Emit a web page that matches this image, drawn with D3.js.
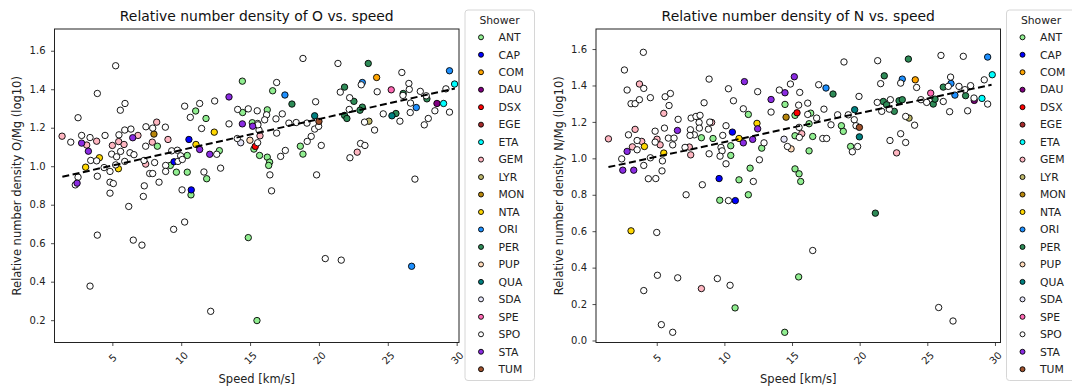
<!DOCTYPE html>
<html lang="en">
<head>
<meta charset="utf-8">
<script src="https://d3js.org/d3.v7.min.js"></script>
<style>
body { margin: 0; background: #fff; font-family: "DejaVu Sans", sans-serif; }
.axis text { font: 10px "DejaVu Sans", sans-serif; fill: #222; }
.axis line { stroke: #222; stroke-width: 0.8; }
.axis path { display: none; }
</style>
</head>
<body>
<div class="chart"></div>
<script>
// shower codes and their matplotlib colours (legend order)
var showers = ["ANT","CAP","COM","DAU","DSX","EGE","ETA","GEM","LYR","MON","NTA","ORI","PER","PUP","QUA","SDA","SPE","SPO","STA","TUM"];
var showerColors = ["#90ee90","#0000ff","#ffa500","#800080","#ff0000","#a52a2a","#00ffff","#ffb6c1","#bdb76b","#b8860b","#ffd700","#1e90ff","#2e8b57","#ffdab9","#008080","#e6e6fa","#ff69b4","#ffffff","#8a2be2","#a0522d"];

var speedTicks = [5, 10, 15, 20, 25, 30];
var oTicks = [0.2, 0.4, 0.6, 0.8, 1.0, 1.2, 1.4, 1.6];
var nTicks = [0.0, 0.2, 0.4, 0.6, 0.8, 1.0, 1.2, 1.4, 1.6];

// [speed km/s, log10 O/Mg, shower]
var oPoints = [
[1.35,1.156,"GEM"],[1.98,1.125,"SPO"],[2.51,1.252,"SPO"],[2.77,1.16,"SPO"],[2.77,1.12,"STA"],[3.38,1.149,"SPO"],[3.86,1.13,"GEM"],[3.14,1.11,"GEM"],
[3.26,1.078,"STA"],[3.43,1.03,"SPO"],[3.86,1.028,"SPO"],[4.06,1.044,"NTA"],[3.06,0.995,"NTA"],[3.91,1.378,"SPO"],[5.24,1.522,"SPO"],[5.92,1.326,"SPO"],
[5.58,1.291,"SPO"],[4.47,1.16,"SPO"],[3.91,0.948,"SPO"],[2.51,0.943,"SPO"],[2.31,0.903,"SPO"],[2.44,0.912,"STA"],[4.4,0.993,"SPO"],[4.83,0.973,"SPO"],
[4.83,0.917,"SPO"],[5.07,0.91,"SPO"],[4.83,0.86,"SPO"],[5.0,1.108,"GEM"],[5.46,1.128,"GEM"],[5.85,1.113,"GEM"],[5.48,1.163,"SPO"],[5.9,1.188,"SPO"],
[6.35,1.193,"SPO"],[4.95,1.063,"SPO"],[5.31,1.049,"SPO"],[5.6,1.077,"SPO"],[6.28,1.07,"SPO"],[6.57,1.06,"SPO"],[5.9,1.025,"SPO"],[5.24,1.007,"SPO"],
[5.44,0.987,"NTA"],[6.48,1.148,"STA"],[6.86,1.16,"GEM"],[7.44,1.205,"SPO"],[7.93,1.198,"SPO"],[8.22,1.229,"GEM"],[8.02,1.167,"MON"],[8.85,1.203,"SPO"],
[9.04,1.139,"GEM"],[7.9,1.125,"GEM"],[7.42,1.104,"SPO"],[8.27,1.104,"ANT"],[6.19,0.791,"SPO"],[7.32,0.898,"SPO"],[7.25,0.843,"SPO"],[7.71,0.962,"SPO"],
[7.93,0.962,"SPO"],[8.07,1.019,"SPO"],[7.3,1.03,"SPO"],[7.42,1.011,"GEM"],[8.39,0.917,"SPO"],[3.91,0.642,"SPO"],[6.52,0.616,"SPO"],[7.15,0.59,"SPO"],
[3.38,0.377,"SPO"],[9.45,0.672,"SPO"],[10.25,0.71,"SPO"],[10.06,0.877,"SPO"],[10.71,0.851,"ANT"],[10.73,0.877,"CAP"],[10.56,1.139,"CAP"],[11.07,1.113,"NTA"],
[11.34,1.087,"STA"],[8.87,1.004,"SPO"],[8.87,0.973,"SPO"],[9.31,1.08,"SPO"],[9.72,1.083,"SPO"],[9.96,1.054,"SPO"],[9.77,1.025,"SPO"],[9.48,1.023,"CAP"],
[10.08,1.035,"SPO"],[9.65,0.969,"ANT"],[10.44,0.969,"ANT"],[10.44,1.056,"ANT"],[9.21,1.004,"ANT"],[10.25,1.312,"SPO"],[10.66,1.254,"SPO"],[11.05,1.287,"ANT"],
[11.34,1.326,"SPO"],[11.8,1.248,"ANT"],[11.48,1.196,"SPO"],[11.65,0.97,"SPO"],[11.85,0.935,"ANT"],[12.4,1.177,"NTA"],[12.43,1.339,"SPO"],[12.07,1.062,"STA"],
[12.58,1.062,"SPO"],[12.77,1.081,"ANT"],[12.86,0.99,"SPO"],[13.47,1.36,"STA"],[13.47,1.22,"SPO"],[12.14,0.246,"SPO"],
[14.1,1.295,"SPO"],[14.87,1.298,"SPO"],[14.44,1.442,"ANT"],[14.46,1.279,"ANT"],[14.44,1.22,"STA"],[14.32,1.122,"SDA"],[14.07,1.144,"SPO"],[14.99,1.135,"PUP"],
[15.19,1.208,"STA"],[15.16,1.226,"ANT"],[15.38,1.103,"DSX"],[15.28,1.089,"ANT"],[15.55,1.222,"SPO"],[15.65,1.188,"SPO"],[15.72,1.158,"GEM"],[15.55,1.122,"SPO"],
[14.87,0.629,"ANT"],[15.5,0.198,"ANT"],
[18.84,1.56,"SPO"],[16.93,1.435,"SPO"],[16.64,1.392,"ANT"],[17.53,1.37,"ORI"],[18.04,1.323,"PER"],[19.76,1.335,"SPO"],[15.52,1.288,"SPO"],[16.25,1.293,"ANT"],
[16.2,1.267,"SPO"],[17.34,1.272,"SPO"],[16.88,1.246,"SPO"],[19.69,1.262,"QUA"],[20.0,1.233,"TUM"],[19.13,1.224,"SPO"],[18.35,1.227,"SPO"],[17.82,1.224,"SPO"],
[19.69,1.193,"SPO"],[19.98,1.207,"SPO"],[19.44,1.155,"SPO"],[19.15,1.129,"SPO"],[16.93,1.172,"SPO"],[16.06,1.241,"SPO"],[15.57,1.215,"SPO"],[18.65,1.104,"ANT"],
[18.84,1.063,"ANT"],[20.17,1.108,"SPO"],[17.56,1.082,"SPO"],[17.22,1.051,"SPO"],[15.69,1.056,"ANT"],[16.25,1.047,"ANT"],[16.42,1.021,"ANT"],[16.35,1.004,"ANT"],
[16.44,0.955,"SPO"],[16.56,0.872,"SPO"],[19.83,0.955,"SPO"],[20.46,0.52,"SPO"],[21.62,0.512,"SPO"],
[21.38,1.534,"SPO"],[23.58,1.534,"PER"],[21.86,1.411,"PER"],[21.55,1.385,"SPO"],[22.23,1.356,"SPO"],[22.54,1.337,"PER"],[23.15,1.435,"ORI"],[23.07,1.423,"SPO"],
[23.15,1.307,"PER"],[22.98,1.291,"PER"],[22.2,1.295,"SPO"],[21.86,1.264,"PER"],[22.03,1.248,"PER"],[23.31,1.229,"SPO"],[23.63,1.234,"LYR"],[24.04,1.188,"SPO"],
[24.19,1.461,"COM"],[24.23,1.387,"SPO"],[25.25,1.397,"SPE"],[24.67,1.272,"SPO"],[25.3,1.262,"QUA"],[25.59,1.274,"PER"],[25.88,1.234,"SPO"],[26.02,1.487,"SPO"],
[26.53,1.43,"SPO"],[26.56,1.399,"SPO"],[26.12,1.378,"PER"],[26.1,1.368,"SPO"],[26.65,1.328,"SPO"],[26.63,1.279,"SPO"],[27.07,1.305,"ORI"],[27.36,1.389,"SPO"],
[27.84,1.35,"PER"],[27.79,1.366,"SPO"],[27.94,1.248,"SPO"],[27.65,1.215,"SPO"],[28.42,1.288,"SPO"],[28.57,1.326,"DAU"],[29.05,1.326,"ETA"],[29.22,1.402,"SPO"],
[29.48,1.281,"SPO"],[29.48,1.496,"ORI"],[29.85,1.427,"ETA"],[26.97,0.933,"SPO"],[26.73,0.48,"ORI"],[22.78,1.073,"GEM"],[23.02,1.118,"SPO"],[23.34,1.108,"SPO"],
[22.25,1.044,"SPO"]
];

// [speed km/s, log10 N/Mg, shower]
var nPoints = [
[1.43,1.107,"GEM"],[2.41,0.997,"SPO"],[2.49,0.935,"STA"],[3.3,0.935,"STA"],[2.81,1.038,"STA"],[2.61,1.485,"SPO"],[2.81,1.375,"SPO"],[3.1,1.3,"SPO"],
[3.4,1.3,"SPO"],[3.72,1.322,"SPO"],[3.72,1.408,"GEM"],[4.04,1.384,"SPO"],[4.01,1.582,"SPO"],[4.53,1.333,"SPO"],[2.91,1.129,"SPO"],[3.4,1.159,"GEM"],
[3.55,1.098,"SPO"],[3.89,1.093,"GEM"],[3.2,1.063,"GEM"],[3.55,1.047,"SPO"],[4.09,1.065,"NTA"],[4.04,0.961,"SPO"],[4.38,0.888,"SPO"],[4.93,0.889,"SPO"],
[4.53,1.003,"SPO"],[4.88,1.149,"SPO"],[5.02,1.105,"GEM"],[4.88,1.089,"SPO"],[5.25,1.074,"GEM"],[5.52,1.029,"NTA"],[5.42,0.986,"SPO"],[5.39,0.931,"SPO"],
[5.57,1.166,"SPO"],[5.62,1.338,"SPO"],[6.01,1.356,"SPO"],[5.91,1.29,"SPO"],[5.52,1.247,"GEM"],[5.86,1.111,"SPO"],[6.28,1.111,"SPO"],[6.18,1.074,"SPO"],
[6.53,1.153,"STA"],[6.58,1.214,"SPO"],[7.17,0.8,"SPO"],[7.09,1.06,"SPO"],[7.41,1.062,"GEM"],[7.51,1.019,"GEM"],[7.54,1.221,"SPO"],[7.9,1.23,"SPO"],
[8.2,1.236,"SPO"],[8.13,1.197,"SPO"],[8.15,1.166,"SPO"],[7.49,1.157,"SPO"],[7.78,1.129,"SPO"],[7.46,1.126,"SPO"],[8.3,1.113,"ANT"],[8.87,1.435,"SPO"],
[8.5,1.305,"SPO"],[8.92,1.199,"SPO"],[9.06,1.197,"GEM"],[8.82,1.16,"SPO"],[8.87,1.025,"SPO"],[9.16,1.109,"ANT"],[8.37,0.855,"SPO"],[9.88,1.126,"SPO"],
[9.75,1.06,"SPO"],[9.83,1.041,"SPO"],[9.68,1.012,"SPO"],[10.12,0.97,"SPO"],[10.12,1.179,"SPO"],[9.61,0.889,"CAP"],[9.66,0.77,"ANT"],[10.3,0.768,"SPO"],
[10.81,0.768,"CAP"],[10.59,1.144,"CAP"],[11.08,1.109,"NTA"],[10.47,1.069,"ANT"],[10.47,1.016,"ANT"],[10.3,1.382,"SPO"],[10.67,1.316,"SPO"],[11.4,1.272,"SPO"],
[11.48,1.421,"STA"],[11.77,1.241,"ANT"],[11.4,1.085,"STA"],[12.09,1.104,"STA"],[12.14,0.873,"SPO"],[11.08,0.882,"ANT"],[11.9,0.946,"ANT"],[11.77,0.8,"ANT"],
[12.41,1.192,"NTA"],[12.46,1.162,"STA"],[12.46,1.366,"SPO"],[12.59,0.992,"SPO"],[12.76,1.056,"ANT"],[12.93,1.085,"SPO"],[13.45,1.323,"STA"],[13.45,1.254,"SPO"],
[14.06,1.375,"SPO"],[14.48,1.36,"STA"],[14.48,1.296,"ANT"],[14.56,1.226,"MON"],[14.41,1.105,"SDA"],[14.66,1.065,"SPO"],[14.93,1.052,"PUP"],[15.17,1.448,"STA"],
[14.88,1.408,"SPO"],[15.37,1.25,"DSX"],[15.22,1.236,"ANT"],[15.22,1.124,"ANT"],[15.22,0.942,"ANT"],[15.52,0.915,"ANT"],[15.64,0.873,"ANT"],
[3.1,0.602,"NTA"],[5.0,0.593,"SPO"],[5.05,0.358,"SPO"],[4.04,0.274,"SPO"],[6.55,0.344,"SPO"],[8.3,0.285,"GEM"],[9.48,0.34,"SPO"],[10.42,0.303,"SPO"],
[10.79,0.179,"ANT"],[5.34,0.087,"SPO"],[6.18,0.045,"SPO"],[14.46,0.045,"ANT"],[15.49,0.349,"ANT"],
[15.57,1.362,"SPO"],[15.49,1.292,"SPO"],[16.16,1.303,"SPO"],[15.52,1.17,"SPO"],[15.54,1.115,"SPO"],[15.72,1.135,"GEM"],[16.16,1.241,"SPO"],[16.26,1.19,"ANT"],
[16.53,1.12,"ANT"],[16.38,1.248,"ANT"],[16.26,1.041,"ANT"],[16.53,0.494,"SPO"],[16.97,1.404,"SPO"],[16.82,1.221,"SPO"],[17.36,1.27,"SPO"],[17.27,1.109,"SPO"],
[17.56,1.109,"SPO"],[17.51,1.386,"ORI"],[18.03,1.353,"PER"],[17.88,1.184,"SPO"],[18.37,1.239,"SPO"],[18.84,1.529,"SPO"],[18.65,1.179,"ANT"],[18.79,1.148,"ANT"],
[19.16,1.239,"SPO"],[19.33,1.065,"ANT"],[19.46,1.036,"SPO"],[19.6,1.212,"SPO"],[19.73,1.179,"SPO"],[19.63,1.267,"QUA"],[19.98,1.118,"QUA"],[19.98,1.17,"TUM"],
[19.85,1.065,"SPO"],[19.95,1.34,"SPO"],
[21.16,0.699,"PER"],[21.3,1.307,"SPO"],[21.33,1.536,"SPO"],[21.55,1.41,"SPO"],[21.82,1.453,"PER"],[21.75,1.312,"PER"],[21.99,1.294,"PER"],[22.27,1.322,"SPO"],
[21.63,1.258,"SPO"],[22.19,1.27,"SPO"],[22.56,1.258,"PER"],[22.91,1.316,"PER"],[23.15,1.322,"PER"],[23.15,1.435,"ORI"],[23.03,1.413,"SPO"],[23.4,1.23,"SPO"],
[23.65,1.221,"LYR"],[22.24,1.098,"SPO"],[23.03,1.135,"SPO"],[23.4,1.087,"SPO"],[22.73,1.03,"GEM"],[24.06,1.182,"SPO"],[24.21,1.389,"SPO"],[24.11,1.431,"COM"],
[23.6,1.545,"PER"],[25.25,1.358,"SPE"],[24.53,1.322,"SPO"],[24.95,1.307,"SPO"],[25.44,1.298,"PER"],[25.57,1.325,"PER"],[26.01,1.565,"SPO"],[25.84,0.181,"SPO"],
[26.9,0.107,"SPO"],[26.18,1.312,"SPO"],[26.18,1.391,"PER"],[26.55,1.395,"SPO"],[26.72,1.446,"SPO"],[26.75,1.411,"ORI"],[27.04,1.347,"ORI"],[26.65,1.256,"SPO"],
[27.34,1.395,"SPO"],[27.66,1.56,"SPO"],[27.78,1.377,"SPO"],[27.83,1.344,"PER"],[27.98,1.261,"SPO"],[28.2,1.399,"SPO"],[28.45,1.331,"SPO"],[28.47,1.318,"DAU"],
[29.04,1.329,"ETA"],[29.21,1.431,"SPO"],[29.46,1.298,"SPO"],[29.46,1.556,"ORI"],[29.8,1.459,"ETA"]
];

// dashed trend line end points
var oFit = [[1.37, 0.945], [29.87, 1.404]];
var nFit = [[1.43, 0.952], [29.75, 1.404]];

var width = 1072, height = 389;
var svg = d3.select(".chart").append("svg")
  .attr("width", width)
  .attr("height", height);

var color = d3.scaleOrdinal().domain(showers).range(showerColors);

function panel(offset, points, fit, xDomain, yDomain, yTicks, title, ylabel) {
  var left = 54.5, right = 459, top = 29, bottom = 342.5;
  var g = svg.append("g").attr("transform", "translate(" + offset + ",0)");

  var x = d3.scaleLinear().domain(xDomain).range([left, right]);
  var y = d3.scaleLinear().domain(yDomain).range([bottom, top]);

  // points, drawn one shower after another like the original plot
  var sorted = points.slice().sort(function(a, b) {
    return showers.indexOf(a[2]) - showers.indexOf(b[2]);
  });
  g.append("g").selectAll("circle")
    .data(sorted)
    .enter().append("circle")
    .attr("cx", function(d) { return x(d[0]); })
    .attr("cy", function(d) { return y(d[1]); })
    .attr("r", 3.2)
    .style("fill", function(d) { return color(d[2]); })
    .style("stroke", "#000")
    .style("stroke-width", 0.9);

  var line = d3.line().x(function(d) { return x(d[0]); }).y(function(d) { return y(d[1]); });
  g.append("path")
    .attr("d", line(fit))
    .style("fill", "none")
    .style("stroke", "#000")
    .style("stroke-width", 2)
    .style("stroke-dasharray", "7,3.5");

  // frame
  g.append("rect")
    .attr("x", left).attr("y", top)
    .attr("width", right - left).attr("height", bottom - top)
    .style("fill", "none").style("stroke", "#222").style("stroke-width", 1);

  var xAxis = g.append("g")
    .attr("class", "axis")
    .attr("transform", "translate(0," + bottom + ")")
    .call(d3.axisBottom(x).tickValues(speedTicks).tickSize(3.5).tickFormat(d3.format("d")));
  xAxis.selectAll("text")
    .attr("y", 0).attr("dy", "0.35em")
    .attr("text-anchor", "middle")
    .attr("transform", "translate(0,15.5) rotate(-45)");

  g.append("g")
    .attr("class", "axis")
    .attr("transform", "translate(" + left + ",0)")
    .call(d3.axisLeft(y).tickValues(yTicks).tickSize(3.5).tickPadding(5.5).tickFormat(d3.format(".1f")));

  g.append("text")
    .attr("x", (left + right) / 2).attr("y", 21)
    .attr("text-anchor", "middle")
    .style("font-size", "13.9px").style("fill", "#111")
    .text(title);

  g.append("text")
    .attr("x", (left + right) / 2).attr("y", 383)
    .attr("text-anchor", "middle")
    .style("font-size", "11.5px").style("fill", "#222")
    .text("Speed [km/s]");

  g.append("text")
    .attr("transform", "translate(21," + (top + bottom) / 2 + ") rotate(-90)")
    .attr("text-anchor", "middle")
    .style("font-size", "11.5px").style("fill", "#222")
    .text(ylabel);

  // legend
  var lg = g.append("g").attr("transform", "translate(465,10)");
  lg.append("rect")
    .attr("x", 0).attr("y", 0).attr("width", 69.5).attr("height", 370.5)
    .attr("rx", 3)
    .style("fill", "#fff").style("fill-opacity", 0.8)
    .style("stroke", "#d6d6d6").style("stroke-width", 1);
  lg.append("text")
    .attr("x", 34.5).attr("y", 14)
    .attr("text-anchor", "middle")
    .style("font-size", "10.8px").style("fill", "#222")
    .text("Shower");
  var rows = lg.selectAll(".row")
    .data(showers)
    .enter().append("g")
    .attr("class", "row")
    .attr("transform", function(d, i) { return "translate(0," + (27.3 + i * 17.47) + ")"; });
  rows.append("circle")
    .attr("cx", 16).attr("cy", 0).attr("r", 2.5)
    .style("fill", function(d) { return color(d); })
    .style("stroke", "#000").style("stroke-width", 0.9);
  rows.append("text")
    .attr("x", 33.5).attr("y", 0).attr("dy", "0.35em")
    .style("font-size", "10.8px").style("fill", "#222")
    .text(function(d) { return d; });
}

panel(0, oPoints, oFit, [0.8, 30.17], [0.084, 1.713], oTicks,
  "Relative number density of O vs. speed", "Relative number density O/Mg (log10)");
panel(541.5, nPoints, nFit, [0.51, 30.41], [-0.011, 1.71], nTicks,
  "Relative number density of N vs. speed", "Relative number density N/Mg (log10)");
</script>
</body>
</html>
